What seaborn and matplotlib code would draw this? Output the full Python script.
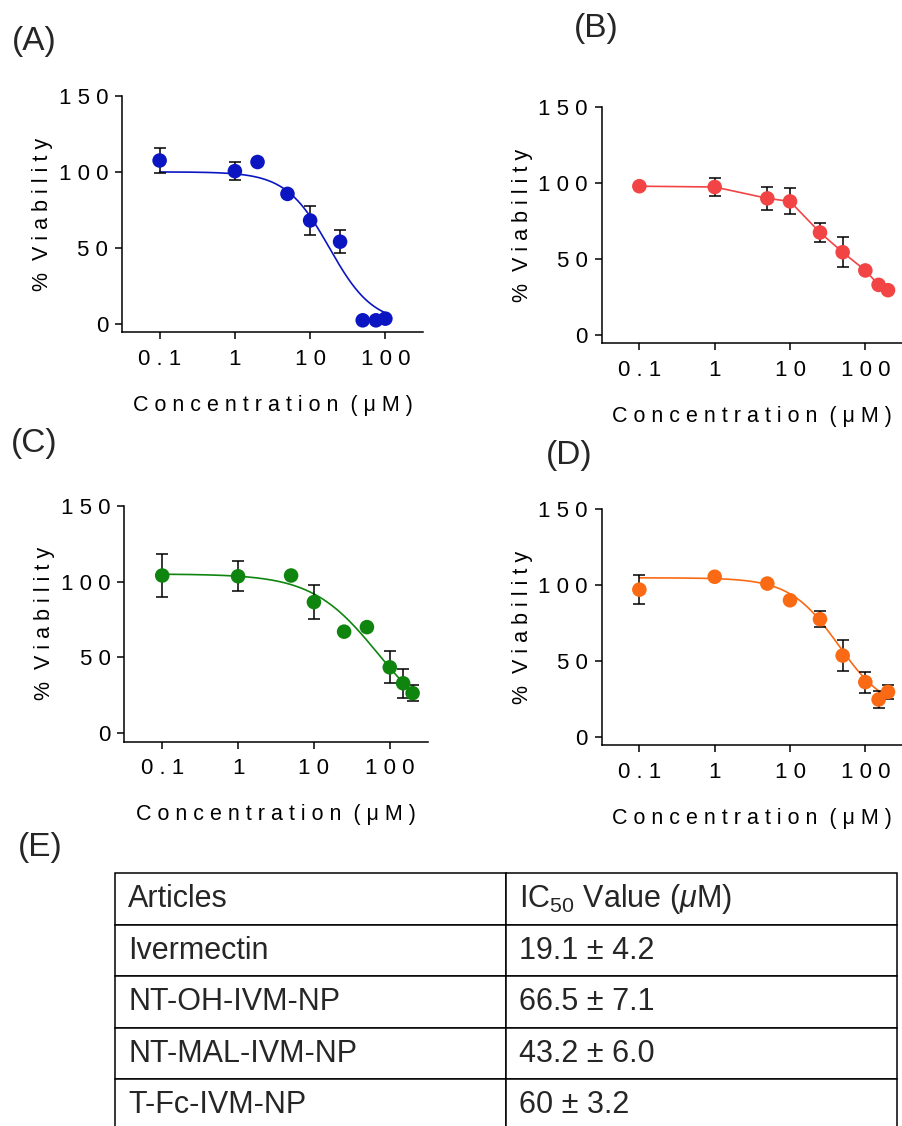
import numpy as np
import pandas as pd
import matplotlib
matplotlib.use("Agg")
import matplotlib.pyplot as plt
from matplotlib.ticker import NullLocator
import seaborn as sns

# ---- data ----
conc_A = [0.1, 1, 2, 5, 10, 25, 50, 75, 100]
via_A = [107.5, 100.5, 106.5, 85.5, 68.0, 54.0, 2.2, 2.2, 3.3]
err_A = [8.0, 6.0, 0, 0, 9.7, 7.5, 0, 0, 0]

conc_B = [0.1, 1, 5, 10, 25, 50, 100, 150, 200]
via_B = [98.0, 97.5, 90.0, 88.0, 67.5, 54.5, 42.5, 33.0, 29.5]
err_B = [0, 6.0, 7.5, 8.5, 6.5, 10.0, 0, 0, 0]

conc_C = [0.1, 1, 5, 10, 25, 50, 100, 150, 200]
via_C = [104.0, 103.5, 104.0, 86.5, 67.0, 70.0, 43.5, 33.0, 26.5]
err_C = [14.0, 10.0, 0, 11.3, 0, 0, 10.6, 9.5, 5.2]

conc_D = [0.1, 1, 5, 10, 25, 50, 100, 150, 200]
via_D = [97.0, 105.5, 101.0, 90.0, 77.5, 53.5, 36.0, 24.5, 29.5]
err_D = [9.7, 0, 0, 0, 5.2, 10.3, 6.9, 5.6, 4.6]

# 4-parameter logistic fit (None = point to point)
fit_top = [100.0, None, 105.0, 104.8]
fit_bottom = [0.0, None, 0.0, 16.0]
fit_ec50 = [18.0, None, 70.0, 44.0]
fit_hill = [1.5, None, 1.0, 1.35]

panel_tags = ["(A)", "(B)", "(C)", "(D)"]
colors = ["#0b16c2", "#f24444", "#0f850f", "#fa6a14"]

xticks = [0.1, 1, 10, 100]
xtick_labels = ["0.1", "1", "10", "100"]
yticks = [0, 50, 100, 150]
ytick_labels = ["0", "50", "100", "150"]
xlabel = "Concentration (μM)"
ylabel = "% Viability"

articles = ["Ivermectin", "NT-OH-IVM-NP", "NT-MAL-IVM-NP", "T-Fc-IVM-NP"]
ic50_mean = [19.1, 66.5, 43.2, 60]
ic50_sd = [4.2, 7.1, 6.0, 3.2]
table_header = ["Articles", r"IC$_{\mathrm{50}}$ Value ($\mu$M)"]


def spaced(s, gap=2):
    # graphpad style letter spacing
    return (" " * gap).join(" ".join(w) for w in s.split(" "))


sns.set_theme(style="ticks")
plt.rcParams["font.family"] = ["Liberation Sans", "DejaVu Sans"]
plt.rcParams["mathtext.fontset"] = "custom"
plt.rcParams["mathtext.rm"] = "Liberation Sans"
plt.rcParams["mathtext.it"] = "Liberation Sans:italic"
plt.rcParams["mathtext.bf"] = "Liberation Sans:bold"

W, H = 903, 1126
fig = plt.figure(figsize=(W / 100, H / 100), dpi=100)


def px_axes(left, right, top, bottom):
    return fig.add_axes([left / W, 1 - bottom / H, (right - left) / W, (bottom - top) / H])


boxes = [(122, 423, 96, 332), (601.7, 903, 107.3, 343.3),
         (124.3, 427.7, 505.7, 741.7), (601.7, 903, 509.3, 745)]
tag_pos = [(34.7, 41.5), (596.7, 29), (34, 443.3), (568.8, 455.8)]

panels = [(conc_A, via_A, err_A), (conc_B, via_B, err_B),
          (conc_C, via_C, err_C), (conc_D, via_D, err_D)]

for i, (conc, via, err) in enumerate(panels):
    ax = px_axes(*boxes[i])
    df = pd.DataFrame({"conc": conc, "via": via, "err": err})
    col = colors[i]

    if fit_top[i] is not None:
        xs = np.logspace(np.log10(min(conc)), np.log10(max(conc)), 300)
        ys = fit_bottom[i] + (fit_top[i] - fit_bottom[i]) / (1 + (xs / fit_ec50[i]) ** fit_hill[i])
        sns.lineplot(x=xs, y=ys, ax=ax, color=col, lw=1.2, zorder=1)
    else:
        sns.lineplot(data=df, x="conc", y="via", ax=ax, color=col, lw=1.2, zorder=1)

    e = df[df.err > 0]
    ax.errorbar(e.conc, e.via, yerr=e.err, fmt="none", ecolor="black",
                elinewidth=1.1, capsize=4.6, capthick=1.1, zorder=2)
    sns.scatterplot(data=df, x="conc", y="via", ax=ax, color=col, s=110,
                    edgecolor="none", linewidth=0, zorder=3)

    ax.set_xscale("log")
    ax.set_xlim(10 ** -1.5, 10 ** 2.5)
    ax.set_ylim(-5.5, 150)
    ax.set_xticks(xticks)
    ax.set_xticklabels([spaced(t) for t in xtick_labels])
    ax.xaxis.set_minor_locator(NullLocator())
    ax.set_yticks(yticks)
    ax.set_yticklabels([spaced(t) for t in ytick_labels])
    for s in ["top", "right"]:
        ax.spines[s].set_visible(False)
    for s in ["left", "bottom"]:
        ax.spines[s].set_linewidth(1.1)
        ax.spines[s].set_color("black")
    ax.tick_params(axis="both", direction="out", length=5, width=1.1,
                   labelsize=16, colors="black")
    ax.tick_params(axis="x", pad=7)
    ax.tick_params(axis="y", pad=5)
    ax.set_xlabel(spaced(xlabel), fontsize=15.5, labelpad=18, color="black")
    ax.set_ylabel(spaced(ylabel), fontsize=15.5, labelpad=4, color="black")
    ax.set_facecolor("white")

    fig.text(tag_pos[i][0] / W, 1 - tag_pos[i][1] / H, panel_tags[i],
             fontsize=24, ha="center", va="center")

fig.text(40 / W, 1 - 847.5 / H, "(E)", fontsize=24, ha="center", va="center")

# ---- table (E) ----
rows = [[a, f"{m:g} ± {s:.1f}"] for a, m, s in zip(articles, ic50_mean, ic50_sd)]
tab_ax = px_axes(115, 896.7, 873.3, 873.3 + 5 * 51.5)
tab_ax.axis("off")
tbl = tab_ax.table(cellText=[table_header] + rows, colWidths=[0.5, 0.5],
                   cellLoc="left", bbox=[0, 0, 1, 1])
tbl.auto_set_font_size(False)
tbl.set_fontsize(22)
for (r, c), cell in tbl.get_celld().items():
    cell.PAD = 0.034
    cell.set_linewidth(1.1)
    cell.set_edgecolor("black")
    cell.set_facecolor("white")
    cell.get_text().set_fontsize(22)
    cell.get_text().set_va("center")

fig.savefig("out.png", dpi=100, facecolor="white")
